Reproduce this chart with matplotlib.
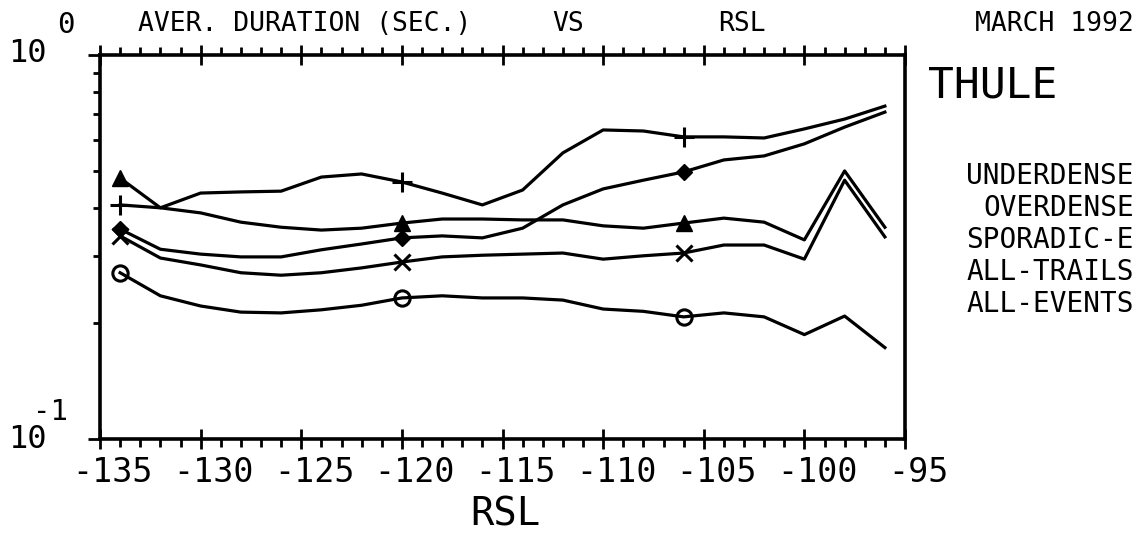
import matplotlib
matplotlib.use("Agg")
import matplotlib.pyplot as plt
import numpy as np
from matplotlib.ticker import MultipleLocator, LogLocator, NullFormatter
from matplotlib.transforms import ScaledTranslation

# RSL bins (dB) and average durations (sec)
rsl = [-134, -132, -130, -128, -126, -124, -122, -120, -118, -116,
       -114, -112, -110, -108, -106, -104, -102, -100, -98, -96]

plus_vals = [0.407, 0.400, 0.437, 0.440, 0.442, 0.481, 0.490, 0.467, 0.437, 0.407,
             0.445, 0.556, 0.638, 0.634, 0.612, 0.612, 0.608, 0.642, 0.681, 0.736]
diamond_vals = [0.352, 0.312, 0.303, 0.298, 0.298, 0.311, 0.322, 0.334, 0.338, 0.334,
                0.354, 0.407, 0.448, 0.472, 0.496, 0.533, 0.546, 0.587, 0.649, 0.710]
triangle_vals = [0.478, 0.400, 0.388, 0.367, 0.356, 0.350, 0.354, 0.365, 0.374, 0.374,
                 0.372, 0.372, 0.359, 0.354, 0.365, 0.376, 0.367, 0.330, 0.499, 0.356]
cross_vals = [0.338, 0.296, 0.284, 0.271, 0.267, 0.271, 0.279, 0.289, 0.298, 0.301,
              0.303, 0.305, 0.294, 0.300, 0.305, 0.320, 0.320, 0.294, 0.472, 0.336]
circle_vals = [0.271, 0.236, 0.222, 0.214, 0.213, 0.217, 0.223, 0.233, 0.236, 0.233,
               0.233, 0.230, 0.218, 0.215, 0.208, 0.213, 0.208, 0.187, 0.209, 0.173]

legend_labels = ["UNDERDENSE", "OVERDENSE", "SPORADIC-E", "ALL-TRAILS", "ALL-EVENTS"]
xtick_vals = [-135, -130, -125, -120, -115, -110, -105, -100, -95]

W, H = 1141, 535
FONT = "DejaVu Sans Mono"

fig = plt.figure(figsize=(W / 100, H / 100), dpi=100)
ax = fig.add_axes([100 / W, 1 - 439 / H, 805 / W, 384 / H])


def px(x, y):
    return x / W, 1 - y / H


lw = 2.3
ax.plot(rsl, plus_vals, color="black", lw=lw, marker="+", ms=14, mew=2.2, markevery=7)
ax.plot(rsl, diamond_vals, color="black", lw=lw, marker="D", ms=8, markevery=7)
ax.plot(rsl, triangle_vals, color="black", lw=lw, marker="^", ms=12, markevery=7)
ax.plot(rsl, cross_vals, color="black", lw=lw, marker="x", ms=11, mew=2.2, markevery=7)
ax.plot(rsl, circle_vals, color="black", lw=lw, marker="o", ms=11, mew=2.2,
        mfc="none", markevery=7)

ax.set_yscale("log")
ax.set_xlim(-135, -95)
ax.set_ylim(0.1, 1.0)

for s in ax.spines.values():
    s.set_linewidth(2.6)

ax.xaxis.set_major_locator(MultipleLocator(5))
ax.xaxis.set_minor_locator(MultipleLocator(1))
ax.tick_params(axis="x", which="major", direction="inout", length=15, width=2,
               top=True, bottom=True, labelsize=24, pad=5)
ax.tick_params(axis="x", which="minor", direction="out", length=6, width=2,
               top=True, bottom=True)
ax.set_xticks(xtick_vals)
ax.set_xticklabels([str(v) for v in xtick_vals], fontfamily=FONT)
for lab in ax.get_xticklabels():
    lab.set_transform(lab.get_transform() + ScaledTranslation(0.13, 0, fig.dpi_scale_trans))

ax.yaxis.set_major_locator(LogLocator(base=10, numticks=5))
ax.yaxis.set_minor_locator(LogLocator(base=10, subs=np.arange(2, 10), numticks=12))
ax.yaxis.set_major_formatter(NullFormatter())
ax.yaxis.set_minor_formatter(NullFormatter())
ax.tick_params(axis="y", which="major", direction="out", length=9, width=2)
ax.tick_params(axis="y", which="minor", direction="out", length=5, width=2)

# y decade labels in plotter style
fig.text(*px(8, 53), "10", fontsize=23, fontfamily=FONT, va="center", ha="left")
fig.text(*px(57, 25), "0", fontsize=21, fontfamily=FONT, va="center", ha="left")
fig.text(*px(8, 440), "10", fontsize=23, fontfamily=FONT, va="center", ha="left")
fig.text(*px(33, 412), "-1", fontsize=21, fontfamily=FONT, va="center", ha="left")

# header line
fig.text(*px(138, 24), "AVER. DURATION (SEC.)", fontsize=19, fontfamily=FONT, va="center")
fig.text(*px(552, 24), "VS", fontsize=19, fontfamily=FONT, va="center")
fig.text(*px(718, 24), "RSL", fontsize=19, fontfamily=FONT, va="center")
fig.text(*px(1134, 24), "MARCH 1992", fontsize=19, fontfamily=FONT, va="center", ha="right")

fig.text(*px(928, 86), "THULE", fontsize=31, fontfamily=FONT, va="center", ha="left")

for i, lab in enumerate(legend_labels):
    fig.text(*px(1134, 176 + 32 * i), lab, fontsize=20, fontfamily=FONT,
             va="center", ha="right")

fig.text(*px(505, 514), "RSL", fontsize=28, fontfamily=FONT, va="center", ha="center")

fig.savefig("out.png", dpi=100)
